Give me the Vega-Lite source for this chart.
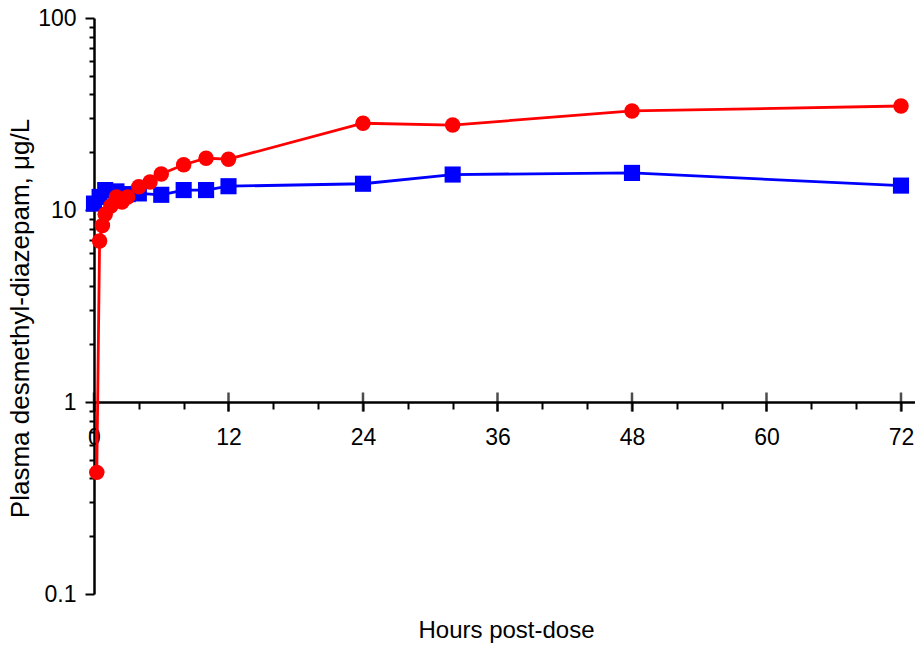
{
  "$schema": "https://vega.github.io/schema/vega-lite/v6.json",
  "width": 821,
  "height": 576,
  "autosize": "none",
  "padding": {"left": 94, "top": 18, "right": 0, "bottom": 55},
  "background": "white",
  "config": {"view": {"stroke": null}, "font": "Liberation Sans"},
  "datasets": {
    "pk": [
      {"series": "B", "hours": 0, "conc": 10.8},
      {"series": "B", "hours": 0.5, "conc": 11.7},
      {"series": "B", "hours": 1, "conc": 12.7},
      {"series": "B", "hours": 2, "conc": 12.5},
      {"series": "B", "hours": 3, "conc": 12.1},
      {"series": "B", "hours": 4, "conc": 12.2},
      {"series": "B", "hours": 6, "conc": 12.0},
      {"series": "B", "hours": 8, "conc": 12.7},
      {"series": "B", "hours": 10, "conc": 12.7},
      {"series": "B", "hours": 12, "conc": 13.3},
      {"series": "B", "hours": 24, "conc": 13.7},
      {"series": "B", "hours": 32, "conc": 15.3},
      {"series": "B", "hours": 48, "conc": 15.6},
      {"series": "B", "hours": 72, "conc": 13.4},
      {"series": "R", "hours": 0.25, "conc": 0.43},
      {"series": "R", "hours": 0.5, "conc": 6.9},
      {"series": "R", "hours": 0.75, "conc": 8.3},
      {"series": "R", "hours": 1, "conc": 9.5},
      {"series": "R", "hours": 1.5, "conc": 10.5},
      {"series": "R", "hours": 2, "conc": 11.7},
      {"series": "R", "hours": 2.5, "conc": 11.0},
      {"series": "R", "hours": 3, "conc": 11.7},
      {"series": "R", "hours": 4, "conc": 13.2},
      {"series": "R", "hours": 5, "conc": 14.0},
      {"series": "R", "hours": 6, "conc": 15.4},
      {"series": "R", "hours": 8, "conc": 17.2},
      {"series": "R", "hours": 10, "conc": 18.6},
      {"series": "R", "hours": 12, "conc": 18.4},
      {"series": "R", "hours": 24, "conc": 28.3},
      {"series": "R", "hours": 32, "conc": 27.7},
      {"series": "R", "hours": 48, "conc": 32.8},
      {"series": "R", "hours": 72, "conc": 34.8}
    ],
    "majorTicks": [
      {"hours": 0}, {"hours": 12}, {"hours": 24}, {"hours": 36}, {"hours": 48}, {"hours": 60}, {"hours": 72}
    ]
  },
  "layer": [
    {
      "mark": {"type": "rule", "color": "#666666", "strokeWidth": 1, "strokeDash": [4, 3]},
      "encoding": {"y": {"datum": 10, "type": "quantitative"}}
    },
    {
      "mark": {"type": "rule", "color": "black", "strokeWidth": 1.5},
      "encoding": {"y": {"datum": 100, "type": "quantitative"}}
    },
    {
      "data": {"name": "majorTicks"},
      "mark": {"type": "tick", "orient": "vertical", "color": "black", "size": 19, "thickness": 2.5},
      "encoding": {
        "x": {"field": "hours", "type": "quantitative"},
        "y": {"datum": 1, "type": "quantitative"}
      }
    },
    {
      "data": {"name": "pk"},
      "mark": {"type": "line", "strokeWidth": 2.8},
      "encoding": {
        "x": {"field": "hours", "type": "quantitative"},
        "y": {"field": "conc", "type": "quantitative"},
        "color": {"field": "series", "type": "nominal", "scale": {"domain": ["B", "R"], "range": ["#0000FF", "#FF0000"]}, "legend": null}
      }
    },
    {
      "data": {"name": "pk"},
      "mark": {"type": "point", "filled": true, "opacity": 1},
      "encoding": {
        "x": {
          "field": "hours",
          "type": "quantitative",
          "scale": {"domain": [0, 73.25], "nice": false, "zero": false},
          "axis": {
            "title": "Hours post-dose",
            "values": [0, 4, 8, 12, 16, 20, 24, 28, 32, 36, 40, 44, 48, 52, 56, 60, 64, 68, 72],
            "labelExpr": "datum.value % 12 === 0 ? datum.label : ''",
            "offset": -192,
            "grid": false,
            "domainColor": "black",
            "domainWidth": 2.5,
            "tickColor": "black",
            "tickWidth": 2,
            "tickSize": {"condition": {"test": "datum.value % 12 === 0", "value": 9}, "value": 7},
            "labelFontSize": 23,
            "labelPadding": 15,
            "labelColor": "black",
            "labelFlush": false,
            "labelOverlap": false,
            "labelBound": false,
            "titleFontSize": 24,
            "titleFontWeight": "normal",
            "titleColor": "black",
            "titleBaseline": "alphabetic",
            "titleY": 235,
            "titleX": 412
          }
        },
        "y": {
          "field": "conc",
          "type": "quantitative",
          "scale": {"type": "log", "domain": [0.1, 100], "nice": false},
          "axis": {
            "title": "Plasma desmethyl-diazepam, μg/L",
            "values": [0.1, 0.2, 0.3, 0.4, 0.5, 0.6, 0.7, 0.8, 0.9, 1, 2, 3, 4, 5, 6, 7, 8, 9, 10, 20, 30, 40, 50, 60, 70, 80, 90, 100],
            "labelExpr": "(datum.value === 0.1 || datum.value === 1 || datum.value === 10 || datum.value === 100) ? format(datum.value, '~g') : ''",
            "grid": false,
            "domainColor": "black",
            "domainWidth": 2.5,
            "tickColor": "black",
            "tickWidth": 2,
            "tickSize": {"condition": {"test": "datum.value === 0.1 || datum.value === 1 || datum.value === 10 || datum.value === 100", "value": 9}, "value": 5},
            "labelFontSize": 23,
            "labelPadding": 9,
            "labelColor": "black",
            "labelFlush": false,
            "labelOverlap": false,
            "labelBound": false,
            "titleFontSize": 26,
            "titleFontWeight": "normal",
            "titleColor": "black",
            "titleAngle": -90,
            "titleAlign": "center",
            "titleBaseline": "alphabetic",
            "titleX": -66,
            "titleY": 300
          }
        },
        "color": {"field": "series", "type": "nominal", "scale": {"domain": ["B", "R"], "range": ["#0000FF", "#FF0000"]}, "legend": null},
        "shape": {"field": "series", "type": "nominal", "scale": {"domain": ["B", "R"], "range": ["square", "circle"]}, "legend": null},
        "size": {"field": "series", "type": "nominal", "scale": {"domain": ["B", "R"], "range": [260, 240]}, "legend": null}
      }
    }
  ]
}
